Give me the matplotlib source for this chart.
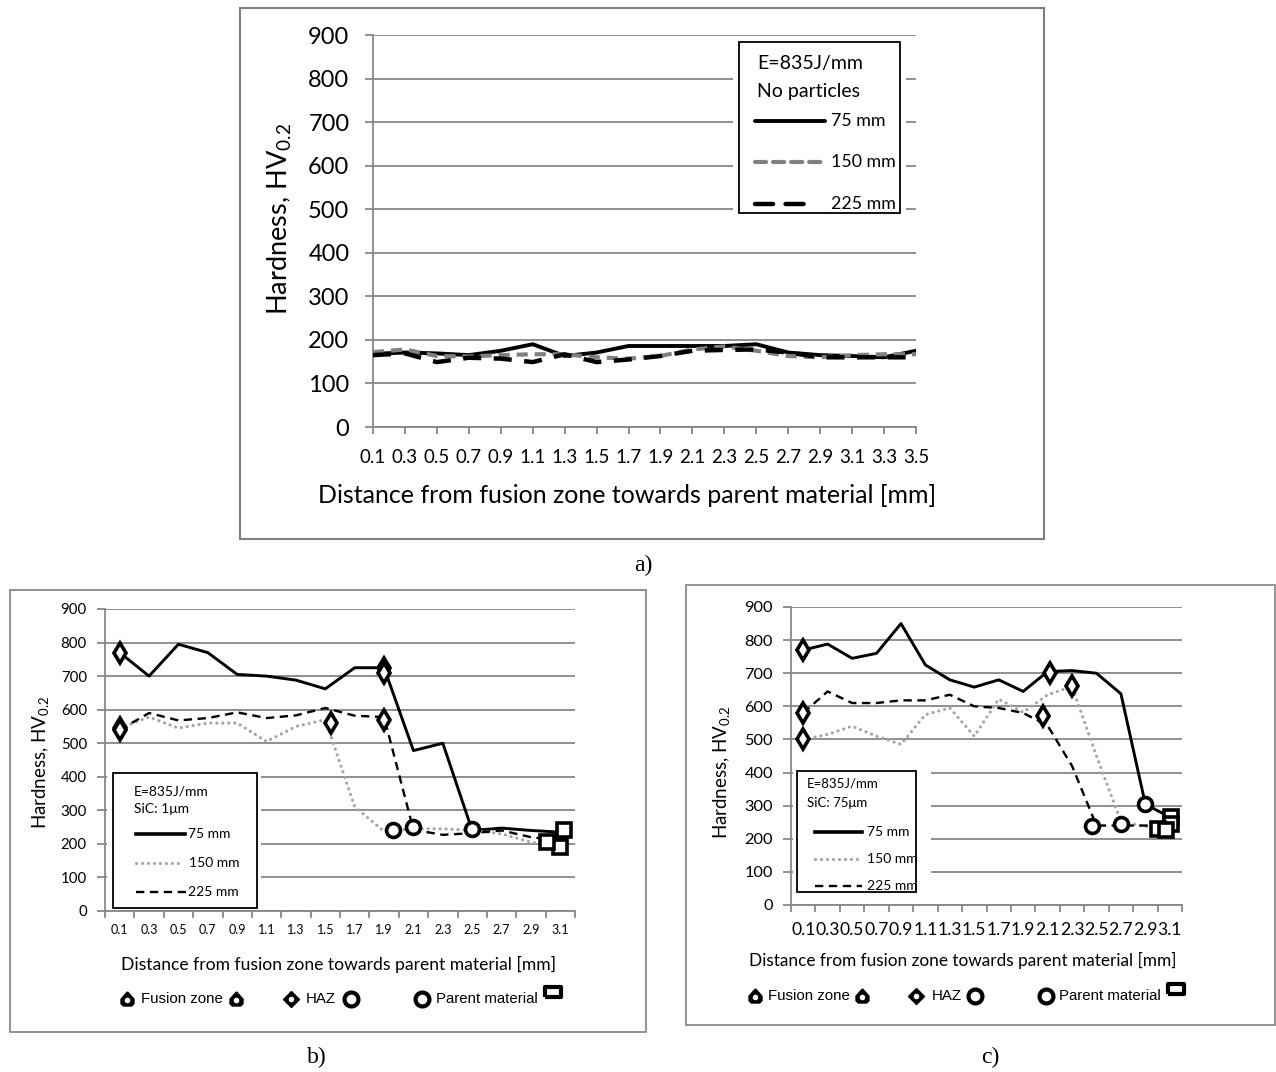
import numpy as np
import matplotlib
matplotlib.use('Agg')
import matplotlib.pyplot as plt
from matplotlib.patches import Rectangle
from matplotlib.lines import Line2D

plt.rcParams['font.family'] = ['Lato', 'DejaVu Sans']
plt.rcParams['mathtext.fontset'] = 'custom'
plt.rcParams['mathtext.rm'] = 'Lato'
plt.rcParams['mathtext.it'] = 'Lato:italic'
plt.rcParams['mathtext.bf'] = 'Lato:bold'
plt.rcParams['lines.scale_dashes'] = False

W, H = 1276, 1072

# ---------------- data ----------------
y_ticks = [0, 100, 200, 300, 400, 500, 600, 700, 800, 900]

a_labels = ['0.1', '0.3', '0.5', '0.7', '0.9', '1.1', '1.3', '1.5', '1.7',
            '1.9', '2.1', '2.3', '2.5', '2.7', '2.9', '3.1', '3.3', '3.5']
a_75 = [168, 171, 169, 165, 175, 190, 163, 171, 186, 186, 186, 186, 190, 171, 165, 163, 160, 175]
a_150 = [172, 178, 163, 162, 165, 167, 167, 160, 157, 163, 178, 185, 175, 163, 160, 165, 167, 167]
a_225 = [165, 169, 149, 159, 157, 149, 167, 149, 155, 163, 175, 177, 178, 171, 160, 160, 160, 160]

bc_labels = ['0.1', '0.3', '0.5', '0.7', '0.9', '1.1', '1.3', '1.5',
             '1.7', '1.9', '2.1', '2.3', '2.5', '2.7', '2.9', '3.1']

b_75 = [770, 700, 795, 770, 705, 700, 688, 662, 725, 725, 478, 500, 240, 247, 240, 235]
b_150 = [545, 578, 545, 560, 560, 505, 550, 570, 311, 237, 245, 245, 240, 230, 205, 195]
b_225 = [540, 590, 568, 575, 592, 575, 583, 605, 582, 578, 242, 227, 232, 240, 220, 210]
# boundary markers (category index, hardness)
b_haz_x = [0, 0, 0, 7.2, 9.0, 9.0, 9.0]
b_haz_y = [770, 545, 540, 560, 569, 723, 708]
b_pm_x = [9.3, 10.0, 12.0]
b_pm_y = [240, 250, 245]
b_end_x = [15.13, 15.0, 14.55]
b_end_y = [240, 192, 205]

c_75 = [770, 788, 745, 760, 850, 725, 680, 658, 680, 645, 705, 708, 700, 638, 305, 265]
c_150 = [500, 515, 540, 510, 485, 575, 595, 510, 622, 582, 635, 660, 450, 252, 237, 240]
c_225 = [580, 645, 610, 610, 618, 618, 635, 600, 595, 580, 542, 420, 240, 240, 240, 240]
c_haz_x = [0, 0, 0, 10.1, 11.0, 9.8]
c_haz_y = [770, 580, 500, 700, 660, 570]
c_pm_x = [14.0, 11.8, 13.0]
c_pm_y = [305, 240, 245]
c_end_x = [15.07, 15.07, 14.5, 14.84]
c_end_y = [267, 244, 229, 228]

GRID = '#878787'


def fx(x):
    return x / W


def fy(y):
    return 1 - y / H


fig = plt.figure(figsize=(W / 100, H / 100), dpi=100)


def frame(x0, y0, x1, y1, color='#8a8a8a', lw=1.3):
    fig.add_artist(Rectangle((fx(x0), fy(y1)), fx(x1) - fx(x0), fy(y0) - fy(y1),
                             transform=fig.transFigure, fill=False,
                             edgecolor=color, linewidth=lw))


def fline(x0, x1, y, **kw):
    fig.add_artist(Line2D([fx(x0), fx(x1)], [fy(y), fy(y)], transform=fig.transFigure, **kw))


def fmark(x, y, **kw):
    fig.add_artist(Line2D([fx(x)], [fy(y)], transform=fig.transFigure, linestyle='none', **kw))


def make_axes(x0, y0, x1, y1):
    return fig.add_axes([fx(x0), fy(y1), fx(x1) - fx(x0), fy(y0) - fy(y1)])


def style_axes(ax, ytick_size):
    ax.set_ylim(0, 900)
    ax.set_yticks(y_ticks)
    ax.grid(axis='y', color=GRID, linewidth=1.3)
    ax.set_axisbelow(True)
    for s in ['top', 'right']:
        ax.spines[s].set_visible(False)
    ax.spines['left'].set_color(GRID)
    ax.spines['bottom'].set_color(GRID)
    ax.spines['left'].set_linewidth(1.3)
    ax.spines['bottom'].set_linewidth(1.3)
    ax.tick_params(axis='y', colors=GRID, labelcolor='black', labelsize=ytick_size,
                   length=5, width=1.3, direction='out')


# ================= panel a =================
frame(240, 8, 1044, 539, color='#7f7f7f', lw=1.5)
axA = make_axes(373, 35, 916, 427)
style_axes(axA, 17)
xa = np.arange(len(a_labels))
axA.set_xlim(0, len(a_labels) - 1)
axA.set_xticks(xa)
axA.set_xticklabels(a_labels)
axA.tick_params(axis='x', colors=GRID, labelcolor='black', labelsize=13.5,
                length=5, width=1.3, pad=11)
axA.tick_params(axis='y', pad=11, length=6)
axA.plot(xa, a_75, color='black', lw=2.8, solid_joinstyle='round', zorder=3)
axA.plot(xa, a_150, color='#808080', lw=3.0, dashes=(8, 5), zorder=3)
axA.plot(xa, a_225, color='black', lw=3.2, dashes=(13, 9), zorder=3)
axA.set_xlabel('Distance from fusion zone towards parent material [mm]', fontsize=18, va='center')
axA.xaxis.set_label_coords(0.468, -0.1735)
axA.set_ylabel('Hardness, HV$_{0.2}$', fontsize=19.5, va='center')
axA.yaxis.set_label_coords(-0.171, 0.531)

# legend a
fig.add_artist(Rectangle((fx(733), fy(219)), fx(906) - fx(733), fy(36) - fy(219),
                         transform=fig.transFigure, facecolor='white', edgecolor='none'))
frame(739, 42, 900, 213, color='black', lw=1.3)
fig.text(fx(757), fy(64), 'E=835J/mm', fontsize=14, va='center', ha='left')
fig.text(fx(757), fy(91), 'No particles', fontsize=14, va='center', ha='left')
fline(755, 825, 121, color='black', lw=2.8, solid_capstyle='round')
fline(755, 825, 162, color='#808080', lw=3.0, dashes=(8, 5), dash_capstyle='round')
fline(755, 810, 204, color='black', lw=3.2, dashes=(13, 9), dash_capstyle='round')
fig.text(fx(831), fy(121), '75 mm', fontsize=12.8, va='center', ha='left')
fig.text(fx(831), fy(162), '150 mm', fontsize=12.8, va='center', ha='left')
fig.text(fx(831), fy(204), '225 mm', fontsize=12.8, va='center', ha='left')
fig.text(fx(643), fy(565), 'a)', fontsize=17, family='Liberation Serif', ha='center', va='center')


# ================= panels b & c =================
def drop_marker():
    return [(0, 1.0), (0.85, 0.05), (0.85, -0.55), (0.55, -0.85), (-0.55, -0.85),
            (-0.85, -0.55), (-0.85, 0.05), (0, 1.0)]


RECT = [(-1, -0.65), (1, -0.65), (1, 0.65), (-1, 0.65), (-1, -0.65)]


def small_panel(box, l75, l150, l225, haz, pm, end, labels, xt_size, yt_size,
                xlab_size, xl_coords, yl_coords, xt_pad, leg):
    x0, y0, x1, y1 = box
    ax = make_axes(x0, y0, x1, y1)
    style_axes(ax, yt_size)
    n = len(labels)
    x = np.arange(n)
    ax.set_xlim(-0.5, n - 0.5)
    ax.set_xticks(np.arange(-0.5, n, 1.0))
    ax.set_xticklabels([])
    ax.set_xticks(x, minor=True)
    ax.set_xticklabels(labels, minor=True)
    ax.tick_params(axis='x', which='major', colors=GRID, length=5, width=1.3)
    ax.tick_params(axis='x', which='minor', length=0, labelsize=xt_size, pad=xt_pad)
    ax.tick_params(axis='y', pad=7, length=6)
    ax.plot(x, l75, color='black', lw=2.1, zorder=3)
    ax.plot(x, l150, color='#a6a6a6', lw=2.3, dashes=(0.1, 4.2), dash_capstyle='round', zorder=3)
    ax.plot(x, l225, color='black', lw=1.7, dashes=(6, 4), zorder=3)
    ax.plot(haz[0], haz[1], linestyle='none', marker='d', ms=10.5, mfc='white', mec='black', mew=2.6, zorder=5)
    ax.plot(pm[0], pm[1], linestyle='none', marker='o', ms=10, mfc='white', mec='black', mew=2.6, zorder=5)
    ax.plot(end[0], end[1], linestyle='none', marker='s', ms=10, mfc='white', mec='black', mew=2.6, zorder=5)
    ax.set_xlabel('Distance from fusion zone towards parent material [mm]', fontsize=xlab_size, va='center')
    ax.xaxis.set_label_coords(*xl_coords)
    ax.set_ylabel('Hardness, HV$_{0.2}$', fontsize=13.5, va='center')
    ax.yaxis.set_label_coords(*yl_coords)

    # inner legend box
    lx0, ly0, lx1, ly1, gap = leg
    fig.add_artist(Rectangle((fx(x0 + 1.5), fy(ly1 + 2)), fx(lx1 + gap) - fx(x0 + 1.5), fy(ly0 - 4) - fy(ly1 + 2),
                             transform=fig.transFigure, facecolor='white', edgecolor='none', zorder=4))
    fig.add_artist(Rectangle((fx(lx0), fy(ly1)), fx(lx1) - fx(lx0), fy(ly0) - fy(ly1),
                             transform=fig.transFigure, fill=False, edgecolor='black', linewidth=1.3, zorder=5))
    return ax


# panel b
frame(10, 590, 646, 1032)
small_panel((105, 609, 575, 911), b_75, b_150, b_225,
            (b_haz_x, b_haz_y), (b_pm_x, b_pm_y), (b_end_x, b_end_y), bc_labels,
            9, 10.8, 12.6, (0.498, -0.1755), (-0.138, 0.493), 9,
            (113, 773, 257, 908, 4))
fig.text(fx(134), fy(791), 'E=835J/mm', fontsize=10, va='center', ha='left', zorder=6)
fig.text(fx(134), fy(809), 'SiC: 1\u03bcm', fontsize=10, va='center', ha='left', zorder=6)
fline(136, 185, 834, color='black', lw=2.6, zorder=6)
fline(136, 181, 863, color='#a6a6a6', lw=2.3, dashes=(0.1, 4.2), dash_capstyle='round', zorder=6)
fline(136, 186, 892, color='black', lw=1.7, dashes=(6, 4), zorder=6)
fig.text(fx(188), fy(834), '75 mm', fontsize=10, va='center', ha='left', zorder=6)
fig.text(fx(189), fy(863), '150 mm', fontsize=10, va='center', ha='left', zorder=6)
fig.text(fx(188), fy(892), '225 mm', fontsize=10, va='center', ha='left', zorder=6)
fig.text(fx(317), fy(1057), 'b)', fontsize=17, family='Liberation Serif', ha='center', va='center')

# panel c
frame(686, 585, 1275, 1025)
small_panel((791, 607, 1182, 905), c_75, c_150, c_225,
            (c_haz_x, c_haz_y), (c_pm_x, c_pm_y), (c_end_x, c_end_y), bc_labels,
            12.6, 11.8, 12.4, (0.44, -0.1846), (-0.1765, 0.446), 12,
            (797, 771, 916, 892, 15))
fig.text(fx(807), fy(784), 'E=835J/mm', fontsize=9.5, va='center', ha='left', zorder=6)
fig.text(fx(807), fy(803), 'SiC: 75\u03bcm', fontsize=9.5, va='center', ha='left', zorder=6)
fline(815, 862, 832, color='black', lw=2.6, zorder=6)
fline(815, 858, 859, color='#a6a6a6', lw=2.3, dashes=(0.1, 4.2), dash_capstyle='round', zorder=6)
fline(815, 862, 886, color='black', lw=1.7, dashes=(6, 4), zorder=6)
fig.text(fx(867), fy(832), '75 mm', fontsize=10, va='center', ha='left', zorder=6)
fig.text(fx(867), fy(859), '150 mm', fontsize=10, va='center', ha='left', zorder=6)
fig.text(fx(867), fy(886), '225 mm', fontsize=10, va='center', ha='left', zorder=6)
fig.text(fx(990), fy(1057), 'c)', fontsize=17, family='Liberation Serif', ha='center', va='center')


# bottom marker legends for b and c
def bottom_legend(xs, y, ysq, size):
    xd1, xt1, xd2, xh, xth, xc1, xc2, xtp, xs2 = xs
    for xx in (xd1, xd2):
        fmark(xx, y, marker=drop_marker(), ms=11, mfc='black', mec='black')
        fmark(xx, y + 1, marker='o', ms=3, mfc='white', mec='white')
    fmark(xh, y, marker='D', ms=8.5, mfc='black', mec='black')
    fmark(xh, y, marker='o', ms=3, mfc='white', mec='white')
    for xx in (xc1, xc2):
        fmark(xx, y, marker='o', ms=10, mfc='white', mec='black', mew=3)
    fmark(xs2, ysq, marker=RECT, ms=12, mfc='white', mec='black', mew=3)
    fig.text(fx(xt1), fy(y), 'Fusion zone', fontsize=size, family='Liberation Sans', va='center', ha='left')
    fig.text(fx(xth), fy(y), 'HAZ', fontsize=size, family='Liberation Sans', va='center', ha='left')
    fig.text(fx(xtp), fy(y), 'Parent material', fontsize=size, family='Liberation Sans', va='center', ha='left')


bottom_legend((127, 141, 236, 291, 306, 351, 422, 436, 553), 999, 992, 10.8)
bottom_legend((755, 768, 862, 916, 932, 975, 1046, 1059, 1176), 996, 989, 10.8)

fig.savefig('out.png', dpi=100)
